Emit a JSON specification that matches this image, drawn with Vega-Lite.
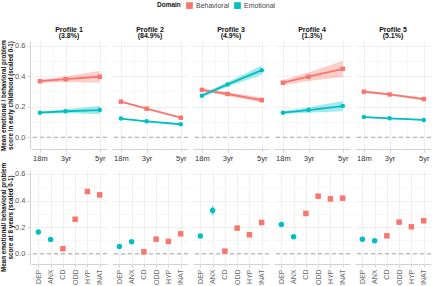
{
  "$schema": "https://vega.github.io/schema/vega-lite/v6.json",
  "padding": {"left": 0, "top": 2, "right": 0, "bottom": 0},
  "background": "white",
  "config": {
    "font": "Liberation Sans",
    "view": {"stroke": null},
    "axis": {
      "domainColor": "#C8C8C8", "domainWidth": 0.8,
      "tickColor": "#C8C8C8", "tickSize": 3, "tickWidth": 0.8,
      "labelColor": "#555555", "labelFontSize": 7.5, "labelPadding": 2,
      "gridColor": "#EAEAEA", "gridWidth": 0.7,
      "titleFontSize": 6.3, "titleFontWeight": "bold", "titleColor": "#111111", "titleLineHeight": 7
    },
    "header": {"labelFontSize": 7, "labelFontWeight": "bold", "labelColor": "#111111", "labelLineHeight": 6.5},
    "legend": {
      "orient": "top", "direction": "horizontal", "titleOrient": "left",
      "titleFontSize": 6.5, "titleFontWeight": "bold", "titleColor": "#111111",
      "labelFontSize": 7, "labelColor": "#444444", "symbolType": "square", "symbolSize": 45,
      "symbolStrokeWidth": 0, "symbolOpacity": 1, "columnPadding": 4, "labelOffset": 3, "offset": 16,
      "layout": {"top": {"anchor": "middle"}}
    }
  },
  "datasets": {
    "early": [
      {"p": "Profile 1|(3.8%)", "d": "Behavioral", "t": 1.5, "m": 0.367, "lo": 0.356, "hi": 0.378},
      {"p": "Profile 1|(3.8%)", "d": "Behavioral", "t": 3, "m": 0.380, "lo": 0.362, "hi": 0.398},
      {"p": "Profile 1|(3.8%)", "d": "Behavioral", "t": 5, "m": 0.396, "lo": 0.356, "hi": 0.436},
      {"p": "Profile 1|(3.8%)", "d": "Emotional", "t": 1.5, "m": 0.161, "lo": 0.153, "hi": 0.169},
      {"p": "Profile 1|(3.8%)", "d": "Emotional", "t": 3, "m": 0.170, "lo": 0.157, "hi": 0.183},
      {"p": "Profile 1|(3.8%)", "d": "Emotional", "t": 5, "m": 0.178, "lo": 0.152, "hi": 0.204},
      {"p": "Profile 2|(84.9%)", "d": "Behavioral", "t": 1.5, "m": 0.233, "lo": 0.229, "hi": 0.237},
      {"p": "Profile 2|(84.9%)", "d": "Behavioral", "t": 3, "m": 0.187, "lo": 0.184, "hi": 0.190},
      {"p": "Profile 2|(84.9%)", "d": "Behavioral", "t": 5, "m": 0.128, "lo": 0.124, "hi": 0.132},
      {"p": "Profile 2|(84.9%)", "d": "Emotional", "t": 1.5, "m": 0.122, "lo": 0.119, "hi": 0.125},
      {"p": "Profile 2|(84.9%)", "d": "Emotional", "t": 3, "m": 0.104, "lo": 0.101, "hi": 0.107},
      {"p": "Profile 2|(84.9%)", "d": "Emotional", "t": 5, "m": 0.085, "lo": 0.082, "hi": 0.088},
      {"p": "Profile 3|(4.9%)", "d": "Behavioral", "t": 1.5, "m": 0.310, "lo": 0.298, "hi": 0.322},
      {"p": "Profile 3|(4.9%)", "d": "Behavioral", "t": 3, "m": 0.283, "lo": 0.272, "hi": 0.294},
      {"p": "Profile 3|(4.9%)", "d": "Behavioral", "t": 5, "m": 0.243, "lo": 0.225, "hi": 0.261},
      {"p": "Profile 3|(4.9%)", "d": "Emotional", "t": 1.5, "m": 0.272, "lo": 0.262, "hi": 0.282},
      {"p": "Profile 3|(4.9%)", "d": "Emotional", "t": 3, "m": 0.346, "lo": 0.331, "hi": 0.361},
      {"p": "Profile 3|(4.9%)", "d": "Emotional", "t": 5, "m": 0.439, "lo": 0.409, "hi": 0.469},
      {"p": "Profile 4|(1.3%)", "d": "Behavioral", "t": 1.5, "m": 0.357, "lo": 0.340, "hi": 0.374},
      {"p": "Profile 4|(1.3%)", "d": "Behavioral", "t": 3, "m": 0.396, "lo": 0.368, "hi": 0.424},
      {"p": "Profile 4|(1.3%)", "d": "Behavioral", "t": 5, "m": 0.448, "lo": 0.395, "hi": 0.501},
      {"p": "Profile 4|(1.3%)", "d": "Emotional", "t": 1.5, "m": 0.161, "lo": 0.152, "hi": 0.170},
      {"p": "Profile 4|(1.3%)", "d": "Emotional", "t": 3, "m": 0.178, "lo": 0.160, "hi": 0.196},
      {"p": "Profile 4|(1.3%)", "d": "Emotional", "t": 5, "m": 0.204, "lo": 0.170, "hi": 0.238},
      {"p": "Profile 5|(5.1%)", "d": "Behavioral", "t": 1.5, "m": 0.298, "lo": 0.289, "hi": 0.307},
      {"p": "Profile 5|(5.1%)", "d": "Behavioral", "t": 3, "m": 0.280, "lo": 0.273, "hi": 0.287},
      {"p": "Profile 5|(5.1%)", "d": "Behavioral", "t": 5, "m": 0.250, "lo": 0.240, "hi": 0.260},
      {"p": "Profile 5|(5.1%)", "d": "Emotional", "t": 1.5, "m": 0.132, "lo": 0.127, "hi": 0.137},
      {"p": "Profile 5|(5.1%)", "d": "Emotional", "t": 3, "m": 0.124, "lo": 0.120, "hi": 0.128},
      {"p": "Profile 5|(5.1%)", "d": "Emotional", "t": 5, "m": 0.113, "lo": 0.108, "hi": 0.118}
    ],
    "late": [
      {"p": "Profile 1", "d": "Emotional", "s": "DEP", "m": 0.163, "lo": 0.155, "hi": 0.171},
      {"p": "Profile 1", "d": "Emotional", "s": "ANX", "m": 0.108, "lo": 0.100, "hi": 0.116},
      {"p": "Profile 1", "d": "Behavioral", "s": "CD", "m": 0.038, "lo": 0.032, "hi": 0.044},
      {"p": "Profile 1", "d": "Behavioral", "s": "ODD", "m": 0.260, "lo": 0.250, "hi": 0.270},
      {"p": "Profile 1", "d": "Behavioral", "s": "HYP", "m": 0.468, "lo": 0.453, "hi": 0.483},
      {"p": "Profile 1", "d": "Behavioral", "s": "INAT", "m": 0.443, "lo": 0.423, "hi": 0.463},
      {"p": "Profile 2", "d": "Emotional", "s": "DEP", "m": 0.055, "lo": 0.052, "hi": 0.058},
      {"p": "Profile 2", "d": "Emotional", "s": "ANX", "m": 0.090, "lo": 0.087, "hi": 0.093},
      {"p": "Profile 2", "d": "Behavioral", "s": "CD", "m": 0.015, "lo": 0.012, "hi": 0.018},
      {"p": "Profile 2", "d": "Behavioral", "s": "ODD", "m": 0.110, "lo": 0.107, "hi": 0.113},
      {"p": "Profile 2", "d": "Behavioral", "s": "HYP", "m": 0.093, "lo": 0.090, "hi": 0.096},
      {"p": "Profile 2", "d": "Behavioral", "s": "INAT", "m": 0.150, "lo": 0.147, "hi": 0.153},
      {"p": "Profile 3", "d": "Emotional", "s": "DEP", "m": 0.133, "lo": 0.125, "hi": 0.141},
      {"p": "Profile 3", "d": "Emotional", "s": "ANX", "m": 0.325, "lo": 0.290, "hi": 0.360},
      {"p": "Profile 3", "d": "Behavioral", "s": "CD", "m": 0.020, "lo": 0.014, "hi": 0.026},
      {"p": "Profile 3", "d": "Behavioral", "s": "ODD", "m": 0.193, "lo": 0.183, "hi": 0.203},
      {"p": "Profile 3", "d": "Behavioral", "s": "HYP", "m": 0.143, "lo": 0.133, "hi": 0.153},
      {"p": "Profile 3", "d": "Behavioral", "s": "INAT", "m": 0.235, "lo": 0.223, "hi": 0.247},
      {"p": "Profile 4", "d": "Emotional", "s": "DEP", "m": 0.220, "lo": 0.208, "hi": 0.232},
      {"p": "Profile 4", "d": "Emotional", "s": "ANX", "m": 0.128, "lo": 0.120, "hi": 0.136},
      {"p": "Profile 4", "d": "Behavioral", "s": "CD", "m": 0.303, "lo": 0.291, "hi": 0.315},
      {"p": "Profile 4", "d": "Behavioral", "s": "ODD", "m": 0.433, "lo": 0.418, "hi": 0.448},
      {"p": "Profile 4", "d": "Behavioral", "s": "HYP", "m": 0.413, "lo": 0.393, "hi": 0.433},
      {"p": "Profile 4", "d": "Behavioral", "s": "INAT", "m": 0.418, "lo": 0.400, "hi": 0.436},
      {"p": "Profile 5", "d": "Emotional", "s": "DEP", "m": 0.110, "lo": 0.104, "hi": 0.116},
      {"p": "Profile 5", "d": "Emotional", "s": "ANX", "m": 0.098, "lo": 0.092, "hi": 0.104},
      {"p": "Profile 5", "d": "Behavioral", "s": "CD", "m": 0.135, "lo": 0.128, "hi": 0.142},
      {"p": "Profile 5", "d": "Behavioral", "s": "ODD", "m": 0.238, "lo": 0.230, "hi": 0.246},
      {"p": "Profile 5", "d": "Behavioral", "s": "HYP", "m": 0.203, "lo": 0.195, "hi": 0.211},
      {"p": "Profile 5", "d": "Behavioral", "s": "INAT", "m": 0.248, "lo": 0.240, "hi": 0.256}
    ]
  },
  "spacing": 0,
  "vconcat": [
    {
      "data": {"name": "early"},
      "spacing": 3,
      "facet": {
        "column": {
          "field": "p", "type": "nominal", "title": null,
          "header": {"labelExpr": "split(datum.label, '|')", "labelPadding": -5, "labelBaseline": "bottom"}
        }
      },
      "spec": {
        "width": 76,
        "height": 108,
        "encoding": {
          "x": {
            "field": "t", "type": "quantitative",
            "scale": {"domain": [0.98, 5.42], "nice": false, "zero": false},
            "axis": {
              "title": null, "values": [1.5, 2.25, 3, 4, 5],
              "labelExpr": "datum.value == 1.5 ? '18m' : datum.value == 3 ? '3yr' : datum.value == 5 ? '5yr' : ''",
              "labelColor": "#333333", "labelFontSize": 7.5,
              "tickOpacity": {"condition": {"test": "datum.value == 2.25 || datum.value == 4", "value": 0}, "value": 1},
              "gridColor": {"condition": {"test": "datum.value == 2.25 || datum.value == 4", "value": "#F3F3F3"}, "value": "#EAEAEA"}
            }
          },
          "y": {
            "field": "m", "type": "quantitative",
            "scale": {"domain": [-0.077, 0.63], "nice": false, "zero": false},
            "axis": {
              "title": ["Mean emotional / behavioral problem", "score in early childhood (scaled 0-1)"],
              "titlePadding": 1,
              "values": [0, 0.1, 0.2, 0.3, 0.4, 0.5, 0.6],
              "labelExpr": "round(datum.value * 10) % 2 == 0 ? format(datum.value, '.1f') : ''",
              "tickOpacity": {"condition": {"test": "round(datum.value * 10) % 2 == 1", "value": 0}, "value": 1},
              "gridColor": {"condition": {"test": "round(datum.value * 10) % 2 == 1", "value": "#F3F3F3"}, "value": "#EAEAEA"}
            }
          },
          "color": {
            "field": "d", "type": "nominal", "title": "Domain",
            "scale": {"domain": ["Behavioral", "Emotional"], "range": ["#F8766D", "#00BFC4"]},
            "legend": {"title": "Domain", "symbolType": "square", "symbolOpacity": 1}
          }
        },
        "layer": [
          {
            "transform": [{"filter": "datum.t == 1.5 && datum.d == 'Behavioral'"}],
            "mark": {"type": "rule", "color": "#AAAAAA", "strokeDash": [4, 3], "strokeWidth": 1},
            "encoding": {"x": null, "color": null, "y": {"datum": 0}}
          },
          {
            "mark": {"type": "area", "opacity": 0.35},
            "encoding": {"y2": {"field": "hi"}, "y": {"field": "lo", "type": "quantitative"}}
          },
          {
            "mark": {"type": "line", "strokeWidth": 1.8}
          },
          {
            "mark": {"type": "point", "filled": true, "size": 20, "opacity": 1},
            "encoding": {
              "shape": {"condition": {"test": "datum.d == 'Emotional'", "value": "circle"}, "value": "square"}
            }
          }
        ]
      }
    },
    {
      "data": {"name": "late"},
      "spacing": 3,
      "facet": {
        "column": {"field": "p", "type": "nominal", "title": null, "header": {"labels": false, "labelPadding": 0, "titlePadding": 0}}
      },
      "spec": {
        "width": 76,
        "height": 94,
        "encoding": {
          "x": {
            "field": "s", "type": "nominal",
            "sort": ["DEP", "ANX", "CD", "ODD", "HYP", "INAT"],
            "scale": {"type": "point", "padding": 0.6},
            "axis": {"title": null, "labelAngle": -90, "labelFontSize": 7, "labelColor": "#666666", "grid": true}
          },
          "y": {
            "field": "m", "type": "quantitative",
            "scale": {"domain": [-0.077, 0.63], "nice": false, "zero": false},
            "axis": {
              "title": ["Mean emotional/ behavioral problem", "score at 8 years (scaled 0-1)"],
              "titlePadding": 1,
              "values": [0, 0.1, 0.2, 0.3, 0.4, 0.5, 0.6],
              "labelExpr": "round(datum.value * 10) % 2 == 0 ? format(datum.value, '.1f') : ''",
              "tickOpacity": {"condition": {"test": "round(datum.value * 10) % 2 == 1", "value": 0}, "value": 1},
              "gridColor": {"condition": {"test": "round(datum.value * 10) % 2 == 1", "value": "#F3F3F3"}, "value": "#EAEAEA"}
            }
          },
          "color": {
            "field": "d", "type": "nominal", "title": "Domain",
            "scale": {"domain": ["Behavioral", "Emotional"], "range": ["#F8766D", "#00BFC4"]},
            "legend": {"title": "Domain", "symbolType": "square", "symbolOpacity": 1}
          }
        },
        "layer": [
          {
            "transform": [{"filter": "datum.s == 'DEP'"}],
            "mark": {"type": "rule", "color": "#AAAAAA", "strokeDash": [4, 3], "strokeWidth": 1},
            "encoding": {"x": null, "color": null, "y": {"datum": 0}}
          },
          {
            "mark": {"type": "rule", "strokeWidth": 1.5, "opacity": 0.6},
            "encoding": {"y": {"field": "lo", "type": "quantitative"}, "y2": {"field": "hi"}}
          },
          {
            "mark": {"type": "point", "filled": true, "size": 30, "opacity": 1},
            "encoding": {
              "shape": {"condition": {"test": "datum.d == 'Emotional'", "value": "circle"}, "value": "square"}
            }
          }
        ]
      }
    }
  ]
}
